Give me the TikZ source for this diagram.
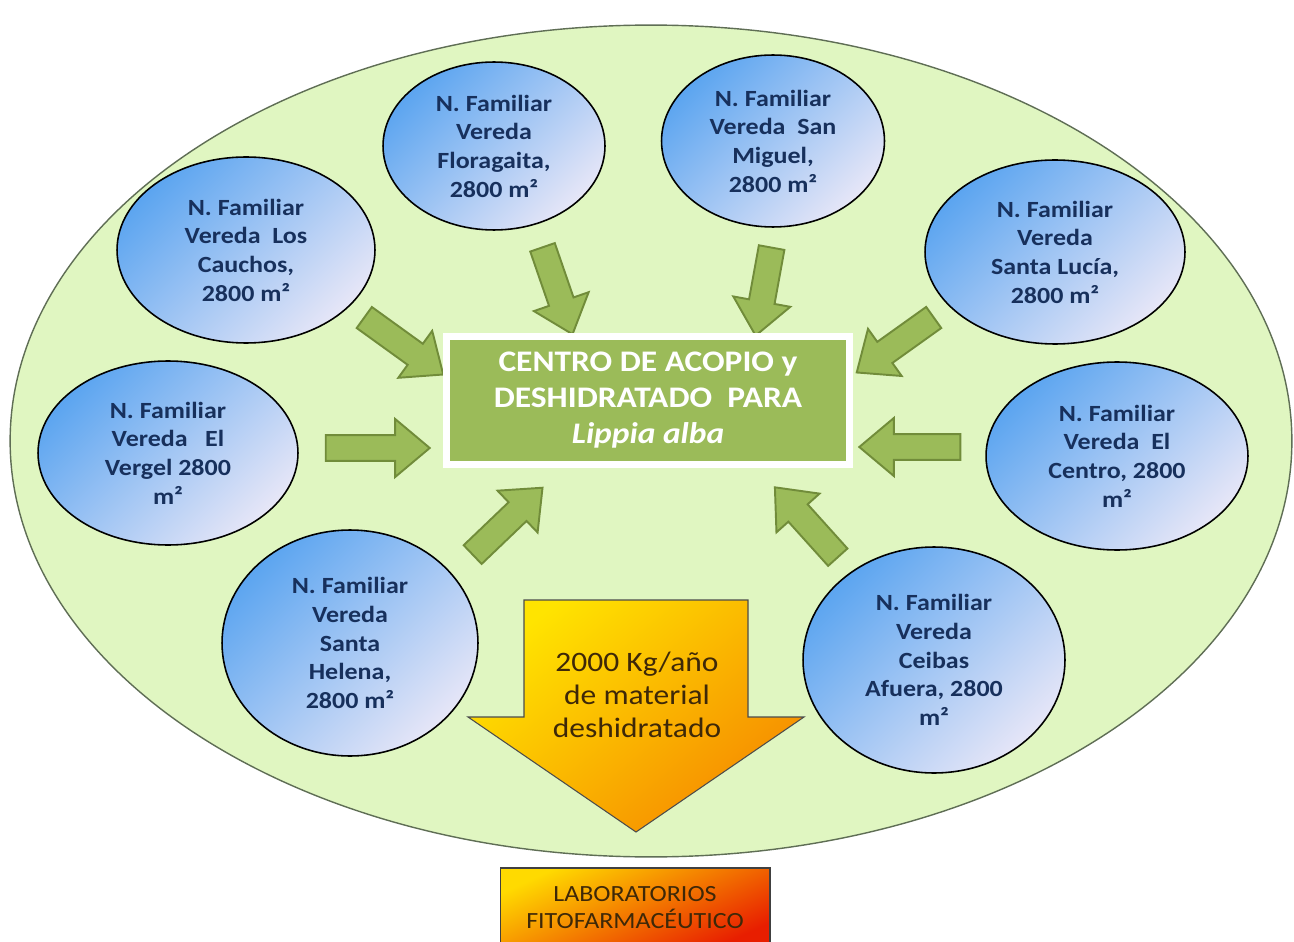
\documentclass[tikz,border=0pt]{standalone}
\usepackage{fontspec}
\setmainfont[FakeStretch=1.12]{Carlito}
\usepackage{tikz}
\usetikzlibrary{shapes.geometric, shapes.arrows, shadows, calc}
\definecolor{fieldgreen}{RGB}{224,246,193}
\definecolor{fieldline}{RGB}{95,110,85}
\definecolor{leafgreen}{RGB}{155,187,89}
\definecolor{leafdark}{RGB}{113,140,58}
\definecolor{farmblue}{RGB}{92,165,240}
\definecolor{farmpale}{RGB}{230,230,247}
\definecolor{farmtext}{RGB}{23,48,92}
\definecolor{sunyellow}{RGB}{255,228,0}
\definecolor{sunorange}{RGB}{246,138,0}
\definecolor{labred}{RGB}{232,30,0}
\definecolor{labtext}{RGB}{62,40,8}
\tikzset{
  farm/.style={ellipse, draw=black, line width=0.9pt, top color=farmblue, bottom color=farmpale, shading angle=45,
    inner sep=0pt, text=farmtext, align=center, font=\bfseries\fontsize{13.2}{16.3}\selectfont},
  leafarrow/.style={single arrow, fill=leafgreen, draw=leafdark, line width=1.1pt, inner xsep=0pt, inner ysep=0.24cm,
    single arrow head extend=0.32cm, single arrow tip angle=80, allow upside down},
  centrebox/.style={rectangle, fill=leafgreen, draw=white, line width=3.6pt, minimum width=8.06cm, minimum height=2.56cm,
    drop shadow={shadow xshift=0.6pt, shadow yshift=-2pt, opacity=0.3}, text=white, align=center,
    font=\bfseries\fontsize{17}{20.5}\selectfont},
  labbox/.style={rectangle, draw=black!75, line width=0.6pt, top color=sunyellow!90!orange, middle color=orange!85!yellow, bottom color=labred,
    shading angle=25, minimum width=5.4cm, minimum height=1.6cm, text=labtext, align=center, font=\fontsize{13.2}{15.4}\selectfont}
}
\newcommand{\feedarrow}[2]{%
  \path let \p1=($(#2)-(#1)$), \n1={veclen(\x1,\y1)} in
    (#1) -- (#2) node[midway, sloped, leafarrow, minimum height=\n1] {};}

\begin{document}
\begin{tikzpicture}[x=0.02cm, y=-0.02cm]
\fill[white] (0,0) rectangle (1294,942);
\useasboundingbox (0,0) rectangle (1294,942);
\draw[fill=fieldgreen, draw=fieldline, line width=0.8pt] (651,441) ellipse [x radius=12.82cm, y radius=8.32cm];

% arrows into the centre
\coordinate (cau-a) at (358,313); \coordinate (cau-b) at (437,370);
\coordinate (flo-a) at (540,240); \coordinate (flo-b) at (570,327);
\coordinate (sm-a) at (773,240);  \coordinate (sm-b) at (757,328);
\coordinate (sl-a) at (940,313);  \coordinate (sl-b) at (863,368);
\coordinate (ver-a) at (318,448); \coordinate (ver-b) at (422,448);
\coordinate (cen-a) at (968,447); \coordinate (cen-b) at (867,447);
\coordinate (sh-a) at (467,560);  \coordinate (sh-b) at (537,493);
\coordinate (ce-a) at (843,563);  \coordinate (ce-b) at (780,493);
\foreach \f in {cau,flo,sm,sl,ver,cen,sh,ce}
  \feedarrow{\f-a}{\f-b};

\node[farm, minimum width=5.16cm, minimum height=3.72cm] (cau) at (246,250) {N. Familiar\\Vereda~ Los\\Cauchos,\\2800 m²};
\node[farm, minimum width=4.44cm, minimum height=3.36cm] (flo) at (494,146) {N. Familiar\\Vereda\\Floragaita,\\2800 m²};
\node[farm, minimum width=4.46cm, minimum height=3.44cm] (sm) at (773,141) {N. Familiar\\Vereda~ San\\Miguel,\\2800 m²};
\node[farm, minimum width=5.2cm, minimum height=3.68cm] (sl) at (1055,252) {N. Familiar\\Vereda\\Santa Lucía,\\2800 m²};
\node[farm, minimum width=5.2cm, minimum height=3.68cm] (ver) at (168,453) {N. Familiar\\Vereda~~ El\\Vergel 2800\\m²};
\node[farm, minimum width=5.24cm, minimum height=3.76cm] (cen) at (1117,456) {N. Familiar\\Vereda~ El\\Centro, 2800\\m²};
\node[farm, minimum width=5.12cm, minimum height=4.52cm] (sh) at (350,643) {N. Familiar\\Vereda\\Santa\\Helena,\\2800 m²};
\node[farm, minimum width=5.24cm, minimum height=4.52cm] (ce) at (934,660) {N. Familiar\\Vereda\\Ceibas\\Afuera, 2800\\m²};

\node[centrebox] (centro) at (648,400.5) {CENTRO DE ACOPIO y\\DESHIDRATADO~ PARA\\\textit{Lippia alba}};

% output
\shade[top color=sunyellow, bottom color=sunorange, shading angle=40, draw=black!70, line width=0.6pt]
  (524,600) -- (748,600) -- (748,717) -- (804,717) -- (636,832) -- (468,717) -- (524,717) -- cycle;
\node[text=labtext, align=center, font=\fontsize{16}{18.8}\selectfont] (yield) at (637,695) {2000 Kg/año\\de material\\deshidratado};
\node[labbox] (lab) at (635,908) {LABORATORIOS\\FITOFARMACÉUTICO};
\end{tikzpicture}
\end{document}
